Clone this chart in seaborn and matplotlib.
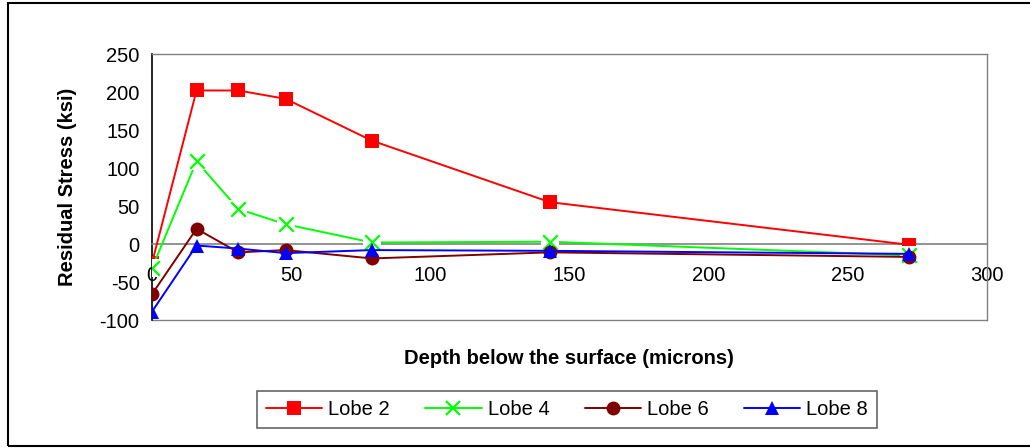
import matplotlib
matplotlib.use("Agg")
import matplotlib.pyplot as plt
import seaborn as sns
import pandas as pd
from matplotlib.lines import Line2D
from matplotlib.patches import Rectangle

# ---- data ----
depth = [0, 16, 31, 48, 79, 143, 272]
lobe2 = [-25, 202, 202, 191, 136, 55, -1]
lobe4 = [-32, 109, 46, 26, 2, 3, -15]
lobe6 = [-66, 20, -11, -8, -19, -11, -17]
lobe8 = [-89, -2, -6, -12, -8, -9, -13]
series_names = ["Lobe 2", "Lobe 4", "Lobe 6", "Lobe 8"]
x_ticks = [0, 50, 100, 150, 200, 250, 300]
y_ticks = [-100, -50, 0, 50, 100, 150, 200, 250]

sns.set_theme(style="white")
plt.rcParams["font.family"] = ["Liberation Sans", "DejaVu Sans"]
plt.rcParams["text.color"] = "black"
plt.rcParams["axes.labelcolor"] = "black"
plt.rcParams["xtick.color"] = "black"
plt.rcParams["ytick.color"] = "black"

fig = plt.figure(figsize=(10.30, 4.48), dpi=100)
ax = fig.add_axes([152 / 1030, 1 - 320 / 448, (987 - 152) / 1030, (320 - 54) / 448])

# outer chart frame
fig.patches.append(Rectangle((8 / 1030, 1 - 446 / 448), 1.1, (446 - 3) / 448,
                             transform=fig.transFigure, fill=False,
                             edgecolor="black", linewidth=1.5, zorder=0))

colors = ["#ff0000", "#00ff00", "#800000", "#0000ff"]
markers = ["s", "x", "o", "^"]

df = pd.DataFrame({
    "depth": depth * 4,
    "stress": lobe2 + lobe4 + lobe6 + lobe8,
    "series": sum([[n] * len(depth) for n in series_names], []),
})

lw = 1.4
for i, name in enumerate(series_names):
    sub = df[df["series"] == name]
    if name == "Lobe 4":
        sns.lineplot(data=sub, x="depth", y="stress", color=colors[i], lw=lw,
                     ax=ax, zorder=3 + i, legend=False, sort=False)
        # white box behind the x markers (Excel style)
        sns.scatterplot(data=sub, x="depth", y="stress", marker="s", s=170,
                        color="white", edgecolor="none", ax=ax, zorder=3.5 + i,
                        legend=False)
        sns.scatterplot(data=sub, x="depth", y="stress", marker="x", s=110,
                        color=colors[i], linewidth=1.6, ax=ax, zorder=3.6 + i,
                        legend=False)
    else:
        sns.lineplot(data=sub, x="depth", y="stress", color=colors[i], lw=lw,
                     marker=markers[i], markersize=10, markeredgewidth=0,
                     markerfacecolor=colors[i], ax=ax, zorder=3 + i,
                     legend=False, sort=False)

ax.set_xlim(0, 300)
ax.set_ylim(-100, 250)
ax.set_xticks(x_ticks)
ax.set_yticks(y_ticks)
ax.set_xticklabels([str(t) for t in x_ticks])
ax.set_yticklabels([str(t) for t in y_ticks])

for s in ["top", "right"]:
    ax.spines[s].set_color("#808080")
    ax.spines[s].set_linewidth(1.0)
ax.spines["left"].set_color("black")
ax.spines["left"].set_linewidth(1.2)
ax.spines["bottom"].set_position(("data", 0))
ax.spines["bottom"].set_color("#808080")
ax.spines["bottom"].set_linewidth(1.2)
ax.axhline(-100, color="#808080", lw=1.0, clip_on=False, zorder=1)

ax.tick_params(axis="both", which="both", labelsize=14.5, labelcolor="black",
               length=6, width=1.0, direction="inout")
ax.tick_params(axis="x", color="#404040", pad=13)
ax.tick_params(axis="y", color="black", pad=4, direction="out", length=5)

ax.set_xlabel("")
ax.set_ylabel("Residual Stress (ksi)", fontsize=14.5, fontweight="bold",
              color="black", labelpad=16)
fig.text(569 / 1030, 1 - 358 / 448, "Depth below the surface (microns)",
         fontsize=14.5, fontweight="bold", ha="center", va="center",
         color="black")

handles = [
    Line2D([], [], color=colors[0], lw=lw, marker="s", markersize=10, markeredgewidth=0),
    Line2D([], [], color=colors[1], lw=lw, marker="x", markersize=10, markeredgewidth=1.6),
    Line2D([], [], color=colors[2], lw=lw, marker="o", markersize=10, markeredgewidth=0),
    Line2D([], [], color=colors[3], lw=lw, marker="^", markersize=10, markeredgewidth=0),
]
leg = fig.legend(handles, series_names, ncol=4, loc="center",
                 bbox_to_anchor=(567 / 1030, 1 - 409.5 / 448), fontsize=14.5,
                 frameon=True, fancybox=False, edgecolor="#404040",
                 handlelength=2.8, handletextpad=0.3, columnspacing=1.75,
                 borderpad=0.45)
leg.get_frame().set_linewidth(1.2)
for t in leg.get_texts():
    t.set_color("black")

fig.savefig("out.png", dpi=100)
